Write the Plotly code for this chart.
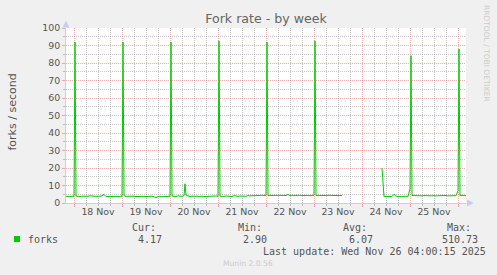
import pandas as pd
import plotly.graph_objects as go

# ---------------- data ----------------
range_start = "2025-11-17 20:00"
range_end = "2025-11-26 04:00"

# hourly samples starting Nov 17 20:00 (None = no data)
forks_hourly = [
    # Nov 17 20:00-23:00
    3.8, 3.7, 3.9, 3.8,
    # Nov 18
    3.9, 4.0, 3.8, 3.7, 3.9, 3.8, 3.6, 3.9, 4.1, 3.8, 3.9, 3.8,
    3.7, 3.9, 4.0, 4.9, 3.6, 3.9, 3.8, 3.7, 3.9, 3.8, 3.7, 3.8,
    # Nov 19
    3.9, 4.2, 3.8, 3.9, 3.7, 3.8, 3.9, 3.7, 3.8, 4.0, 3.9, 3.8,
    3.7, 3.8, 4.0, 3.9, 3.6, 3.0, 3.7, 3.9, 3.6, 3.5, 3.7, 3.8,
    # Nov 20
    3.9, 4.0, 3.8, 3.7, 4.1, 3.9, 3.8, 4.2, 4.3, 3.8, 3.7, 3.9,
    3.8, 3.6, 3.7, 3.8, 3.9, 3.7, 3.6, 3.8, 3.9, 3.7, 3.8, 4.0,
    # Nov 21
    3.8, 3.9, 3.7, 3.8, 4.0, 3.9, 3.8, 3.7, 4.2, 3.9, 3.8, 4.0,
    4.1, 3.9, 3.8, 4.2, 4.1, 4.2, 4.3, 4.2, 4.3, 4.2, 4.4, 4.3,
    # Nov 22
    4.3, 4.2, 4.3, 4.4, 4.3, 4.2, 4.3, 4.4, 4.3, 4.2, 4.3, 4.8,
    4.3, 4.4, 4.2, 4.3, 4.4, 4.3, 4.2, 4.3, 4.4, 4.3, 4.2, 4.3,
    # Nov 23
    4.4, 4.3, 4.2, 4.3, 4.4, 4.3, 4.2, 4.3, 4.4, 4.3, 4.2, 4.3,
    4.4, 4.3, 4.3, None, None, None, None, None, None, None, None, None,
    # Nov 24
    None, None, None, None, None, None, None, None, None, None, 20.0, 3.6,
    3.7, 3.6, 3.8, 3.7, 5.0, 3.9, 3.8, 3.8, 3.9, 3.8, 3.9, 3.8,
    # Nov 25
    8.0, 4.3, 4.2, 4.1, 4.2, 4.3, 4.1, 4.2, 4.0, 4.2, 4.1, 4.3,
    4.2, 4.1, 4.2, 4.0, 4.1, 4.2, 4.3, 4.1, 4.2, 4.0, 4.1, 4.2,
    # Nov 26 00:00-04:00
    7.0, 4.3, 4.2, 4.1, 4.17,
]

# short-lived peaks between hourly samples
spike_times = [
    "2025-11-18 00:30", "2025-11-19 00:30", "2025-11-20 00:30",
    "2025-11-20 07:30", "2025-11-21 00:30", "2025-11-22 00:30",
    "2025-11-23 00:30", "2025-11-25 00:30", "2025-11-26 00:30",
]
spike_values = [92.0, 92.0, 92.0, 11.0, 92.7, 92.0, 92.7, 84.2, 88.0]

day_label_times = [
    "2025-11-18 12:00", "2025-11-19 12:00", "2025-11-20 12:00",
    "2025-11-21 12:00", "2025-11-22 12:00", "2025-11-23 12:00",
    "2025-11-24 12:00", "2025-11-25 12:00",
]
day_labels = ["18 Nov", "19 Nov", "20 Nov", "21 Nov", "22 Nov", "23 Nov",
              "24 Nov", "25 Nov"]

legend_name = "forks"
stat_headers = ["Cur:", "Min:", "Avg:", "Max:"]
stat_values = ["4.17", "2.90", "6.07", "510.73"]
last_update = "Last update: Wed Nov 26 04:00:15 2025"

# ---------------- build series ----------------
df_h = pd.DataFrame({
    "time": pd.date_range(range_start, periods=len(forks_hourly), freq="h"),
    "forks": forks_hourly,
})
df_s = pd.DataFrame({"time": pd.to_datetime(spike_times), "forks": spike_values})
df = pd.concat([df_h, df_s]).sort_values("time").reset_index(drop=True)

# ---------------- figure ----------------
W, H = 497, 275
L, R, T, B = 66, 31, 28, 72
PW, PH = W - L - R, H - T - B

def px(x):
    return (x - L) / PW

def py(y):
    return (H - B - y) / PH

GREEN = "#00CC00"
MGRID = "rgba(230,90,90,0.48)"
GRID = "rgba(150,150,150,0.55)"
DOTS = "1px,1px"
AXIS = "#C8CCF4"
TXT = "#555555"
LIGHT = "#CCCCCC"
SANS = "DejaVu Sans"
MONO = "DejaVu Sans Mono"

fig = go.Figure()
fig.add_trace(go.Scatter(
    x=df["time"], y=df["forks"], mode="lines",
    line=dict(color=GREEN, width=1), connectgaps=False,
    showlegend=False, hoverinfo="skip",
))
fig.add_trace(go.Scatter(
    x=[range_start, range_end], y=[None, None], mode="lines",
    xaxis="x2", showlegend=False, hoverinfo="skip",
))

fig.update_layout(
    width=W, height=H,
    margin=dict(l=L, r=R, t=T, b=B),
    paper_bgcolor="#F0F0F0", plot_bgcolor="#FFFFFF",
    title=dict(text="Fork rate - by week", x=0.5, xref="paper",
               xanchor="center", y=1 - 19 / H, yanchor="middle",
               font=dict(family=SANS, size=12.6, color="#666666")),
    xaxis=dict(
        range=[range_start, range_end], type="date",
        tickmode="array", tickvals=day_label_times, ticktext=day_labels,
        showgrid=False, zeroline=False, ticks="",
        showline=True, linecolor=AXIS, linewidth=1,
        tickfont=dict(family=SANS, size=9.4, color=TXT),
        fixedrange=True,
    ),
    xaxis2=dict(
        range=[range_start, range_end], type="date", overlaying="x",
        anchor="y", side="bottom",
        tick0="2025-11-18", dtick=86400000,
        showticklabels=False, showgrid=True, gridcolor=MGRID,
        griddash=DOTS, gridwidth=1, zeroline=False,
        ticks="outside", ticklen=3, tickcolor=MGRID,
        minor=dict(tick0="2025-11-18", dtick=21600000, showgrid=True,
                   gridcolor=GRID, griddash=DOTS, gridwidth=1,
                   ticks="outside", ticklen=2, tickcolor=GRID),
        showline=False,
    ),
    yaxis=dict(
        range=[0, 100], dtick=10, tick0=0,
        showgrid=True, gridcolor=MGRID, griddash=DOTS, gridwidth=1,
        zeroline=False, showline=True, linecolor=AXIS, linewidth=1,
        ticks="outside", ticklen=3, tickcolor=MGRID,
        minor=dict(dtick=5, showgrid=True, gridcolor=GRID, griddash=DOTS,
                   ticks="outside", ticklen=2, tickcolor=GRID),
        tickfont=dict(family=SANS, size=9.4, color=TXT),
        fixedrange=True,
    ),
)

ann = []
# y axis title
ann.append(dict(text="forks / second", x=px(11.5), y=py(112), xref="paper",
                yref="paper", xanchor="center", yanchor="middle",
                showarrow=False, textangle=-90,
                font=dict(family=SANS, size=11, color=TXT)))
# rrdtool credit
ann.append(dict(text="RRDTOOL / TOBI OETIKER", x=px(486.5), y=py(53.5),
                xref="paper", yref="paper", xanchor="center",
                yanchor="middle", showarrow=False, textangle=90,
                font=dict(family=SANS, size=7.5, color=LIGHT)))
# legend + stats
ann.append(dict(text=legend_name, x=px(26), y=py(239.3), xref="paper",
                yref="paper", xanchor="left", yanchor="middle",
                showarrow=False, font=dict(family=MONO, size=10, color=TXT)))
header_x = [130, 236, 341, 445]
value_x = [136, 241, 347, 440]
for hx, vx, h, v in zip(header_x, value_x, stat_headers, stat_values):
    ann.append(dict(text=h, x=px(hx), y=py(227.3), xref="paper", yref="paper",
                    xanchor="left", yanchor="middle", showarrow=False,
                    font=dict(family=MONO, size=10, color=TXT)))
    ann.append(dict(text=v, x=px(vx), y=py(239.3), xref="paper", yref="paper",
                    xanchor="left", yanchor="middle", showarrow=False,
                    font=dict(family=MONO, size=10, color=TXT)))
ann.append(dict(text=last_update, x=px(261), y=py(251.7), xref="paper",
                yref="paper", xanchor="left", yanchor="middle",
                showarrow=False, font=dict(family=MONO, size=10, color=TXT)))
ann.append(dict(text="Munin 2.0.56", x=px(248), y=py(263.7), xref="paper",
                yref="paper", xanchor="center", yanchor="middle",
                showarrow=False, font=dict(family=SANS, size=7.6, color=LIGHT)))
fig.update_layout(annotations=ann)

shapes = []
# legend colour box
shapes.append(dict(type="rect", xref="paper", yref="paper",
                   x0=px(14), x1=px(20), y0=py(242), y1=py(236),
                   fillcolor=GREEN, line=dict(width=0)))
# axis arrows
shapes.append(dict(type="path", xref="paper", yref="paper",
                   path=f"M {px(62.5)},{py(27.5)} L {px(69.5)},{py(27.5)} L {px(66)},{py(20.5)} Z",
                   fillcolor=AXIS, line=dict(width=0)))
shapes.append(dict(type="path", xref="paper", yref="paper",
                   path=f"M {px(467)},{py(199.5)} L {px(467)},{py(206.5)} L {px(474)},{py(203)} Z",
                   fillcolor=AXIS, line=dict(width=0)))
fig.update_layout(shapes=shapes)

fig.write_html("out.html")
